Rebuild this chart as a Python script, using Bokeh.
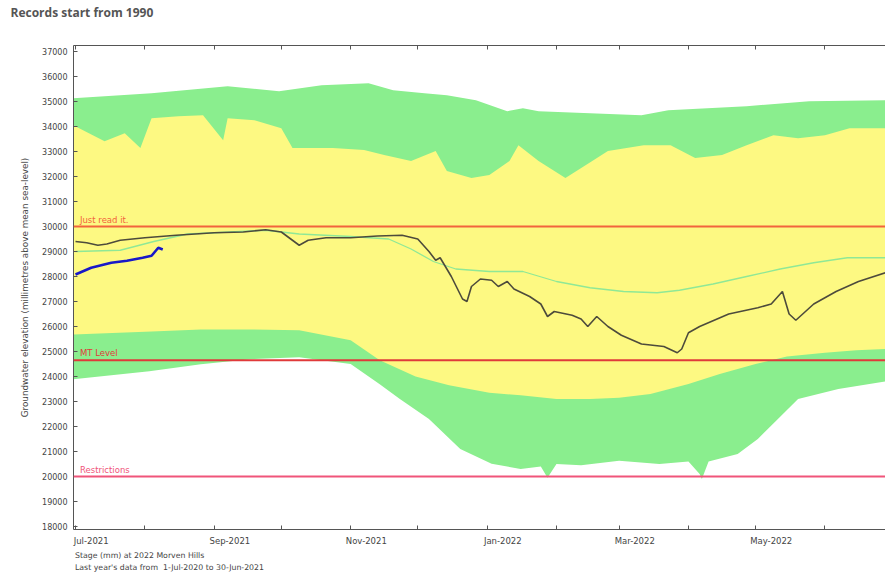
import pandas as pd
from bokeh.plotting import figure
from bokeh.layouts import column
from bokeh.models import (Range1d, FixedTicker, DatetimeAxis, LinearAxis, Label,
                          Span, Legend, LegendItem)
from bokeh.embed import file_html
from bokeh.resources import INLINE

# ---------------- data ----------------
gmax_dates = ["2021-06-30", "2021-08-04", "2021-09-07", "2021-09-30", "2021-10-19",
              "2021-11-09", "2021-11-20", "2021-12-04", "2021-12-14", "2021-12-27",
              "2022-01-10", "2022-01-17", "2022-01-24", "2022-02-16", "2022-03-11",
              "2022-03-23", "2022-04-27", "2022-05-25", "2022-06-28"]
green_max = [35130, 35330, 35610, 35410, 35650, 35730, 35450, 35330, 35250, 35050,
             34610, 34730, 34610, 34530, 34450, 34650, 34810, 35010, 35050]

ytop_dates = ["2021-06-30", "2021-07-14", "2021-07-23", "2021-07-30", "2021-08-04",
              "2021-08-16", "2021-08-27", "2021-09-05", "2021-09-07", "2021-09-19",
              "2021-10-01", "2021-10-06", "2021-10-24", "2021-11-07", "2021-11-16",
              "2021-11-28", "2021-12-09", "2021-12-14", "2021-12-25", "2022-01-02",
              "2022-01-11", "2022-01-15", "2022-01-24", "2022-02-05", "2022-02-17",
              "2022-02-24", "2022-03-12", "2022-03-24", "2022-04-04", "2022-04-16",
              "2022-04-27", "2022-05-09", "2022-05-20", "2022-06-01", "2022-06-12",
              "2022-06-28"]
yellow_top = [34050, 33410, 33730, 33140, 34330, 34410, 34450, 33450, 34330, 34250,
              33930, 33140, 33140, 33060, 32860, 32620, 33020, 32220, 31940, 32060,
              32620, 33250, 32620, 31940, 32620, 33020, 33250, 33250, 32740, 32860,
              33250, 33650, 33530, 33650, 33930, 33930]

ybot_dates = ["2021-06-30", "2021-08-04", "2021-08-26", "2021-09-17", "2021-10-09",
              "2021-11-01", "2021-11-14", "2021-11-30", "2021-12-15", "2022-01-02",
              "2022-01-16", "2022-02-01", "2022-02-16", "2022-03-01", "2022-03-15",
              "2022-04-01", "2022-04-15", "2022-05-01", "2022-05-15", "2022-06-01",
              "2022-06-15", "2022-06-28"]
yellow_bottom = [25680, 25800, 25880, 25880, 25850, 25450, 24650, 24000, 23650, 23350,
                 23250, 23100, 23100, 23150, 23300, 23700, 24100, 24500, 24800, 24950,
                 25050, 25100]

gmin_dates = ["2021-06-30", "2021-08-03", "2021-08-26", "2021-09-17", "2021-10-09",
              "2021-11-01", "2021-11-14", "2021-11-23", "2021-12-06", "2021-12-20",
              "2022-01-03", "2022-01-16", "2022-01-25", "2022-01-28", "2022-02-01",
              "2022-02-12", "2022-03-01", "2022-03-19", "2022-04-01", "2022-04-06",
              "2022-04-07", "2022-04-10", "2022-04-23", "2022-05-02", "2022-05-11",
              "2022-05-20", "2022-06-07", "2022-06-28"]
green_min = [23890, 24210, 24490, 24690, 24770, 24500, 23690, 23100, 22300, 21100,
             20510, 20300, 20400, 19950, 20500, 20450, 20630, 20500, 20600, 20100,
             19900, 20600, 20900, 21500, 22300, 23100, 23500, 23800]

stage_dates = ["2021-07-01", "2021-07-06", "2021-07-11", "2021-07-15", "2021-07-21",
               "2021-08-01", "2021-08-15", "2021-09-01", "2021-09-14", "2021-09-24",
               "2021-10-01", "2021-10-09", "2021-10-13", "2021-10-21", "2021-11-01",
               "2021-11-13", "2021-11-24", "2021-12-01", "2021-12-06", "2021-12-09",
               "2021-12-11", "2021-12-16", "2021-12-21", "2021-12-23", "2021-12-25",
               "2021-12-29", "2022-01-03", "2022-01-06", "2022-01-10", "2022-01-13",
               "2022-01-20", "2022-01-25", "2022-01-28", "2022-01-31", "2022-02-08",
               "2022-02-12", "2022-02-15", "2022-02-19", "2022-02-24", "2022-03-02",
               "2022-03-11", "2022-03-21", "2022-03-27", "2022-03-29", "2022-04-01",
               "2022-04-06", "2022-04-19", "2022-05-02", "2022-05-08", "2022-05-13",
               "2022-05-16", "2022-05-19", "2022-05-27", "2022-06-06", "2022-06-16",
               "2022-06-28"]
stage_values = [29400, 29350, 29250, 29300, 29450, 29550, 29650, 29750, 29780, 29870,
                29780, 29250, 29450, 29550, 29550, 29620, 29650, 29500, 29000, 28650,
                28750, 28000, 27100, 27000, 27600, 27900, 27850, 27600, 27800, 27500,
                27200, 26900, 26400, 26600, 26450, 26300, 26000, 26400, 26000, 25650,
                25300, 25200, 24950, 25100, 25750, 26000, 26500, 26750, 26900, 27400,
                26500, 26250, 26900, 27400, 27800, 28150]

last_dates = ["2021-07-01", "2021-07-21", "2021-08-05", "2021-08-20", "2021-09-01",
              "2021-09-24", "2021-10-09", "2021-11-01", "2021-11-18", "2021-11-28",
              "2021-12-08", "2021-12-18", "2022-01-02", "2022-01-17", "2022-02-01",
              "2022-02-16", "2022-03-03", "2022-03-18", "2022-03-28", "2022-04-12",
              "2022-04-27", "2022-05-12", "2022-05-27", "2022-06-11", "2022-06-28"]
last_values = [29000, 29050, 29400, 29700, 29750, 29850, 29700, 29600, 29500, 29100,
               28600, 28300, 28200, 28200, 27800, 27550, 27400, 27350, 27450, 27700,
               28000, 28300, 28550, 28750, 28750]

current_dates = ["2021-07-01", "2021-07-08", "2021-07-17", "2021-07-24", "2021-07-31",
                 "2021-08-04", "2021-08-07", "2021-08-09"]
current_values = [28080, 28350, 28550, 28630, 28750, 28830, 29150, 29080]

levels = [30000, 24650, 20000]
level_names = ["Just read it.", "MT Level", "Restrictions"]
level_colors = ["#f2643c", "#e03a3a", "#f0557a"]

y_ticks = list(range(18000, 37001, 1000))
x_tick_dates = ["2021-07-01", "2021-08-01", "2021-09-01", "2021-10-01", "2021-11-01",
                "2021-12-01", "2022-01-01", "2022-02-01", "2022-03-01", "2022-04-01",
                "2022-05-01", "2022-06-01"]
x_tick_labels = ["Jul-2021", "", "Sep-2021", "", "Nov-2021", "", "Jan-2022", "",
                 "Mar-2022", "", "May-2022", ""]

title_text = "Records start from 1990"
y_title = "Groundwater elevation (millimetres above mean sea-level)"
legend_texts = ["Stage (mm) at 2022 Morven Hills",
                "Last year's data from  1-Jul-2020 to 30-Jun-2021"]


def ms(d):
    return pd.Timestamp(d).timestamp() * 1000


DAY = 86400000.0
FONT = "DejaVu Sans"
GREEN = "#8aee8e"
YELLOW = "#fdf982"
AXC = "#555555"
STAGE_C = "#4d4b3c"
LAST_C = "#8fe896"


def bare(fig):
    fig.outline_line_color = None
    fig.xgrid.visible = False
    fig.ygrid.visible = False
    return fig


# ---------------- title strip ----------------
t = bare(figure(width=885, height=26, output_backend="svg", toolbar_location=None,
                x_axis_type=None, y_axis_type=None, x_range=Range1d(0, 1),
                y_range=Range1d(0, 1), min_border_left=0, min_border_right=0,
                min_border_top=20, min_border_bottom=0))
t.title.text = title_text
t.title.align = "left"
t.title.offset = -63
t.title.text_font = "Open Sans"
t.title.text_font_size = "12px"
t.title.text_font_style = "bold"
t.title.text_color = "#555555"
t.title.standoff = 0

# ---------------- main figure ----------------
p = bare(figure(width=885, height=522, output_backend="svg", toolbar_location=None,
                x_axis_type=None, y_axis_type=None,
                x_range=Range1d(ms("2021-06-30 02:30"), ms("2022-06-28 02:00")),
                y_range=Range1d(17880, 37240),
                min_border_left=73, min_border_right=0, min_border_top=19,
                min_border_bottom=15))
p.background_fill_color = "white"

gx = [ms(d) for d in gmax_dates] + [ms(d) for d in gmin_dates][::-1]
gy = list(green_max) + list(green_min)[::-1]
p.patch(gx, gy, fill_color=GREEN, line_color=None)
yx = [ms(d) for d in ytop_dates] + [ms(d) for d in ybot_dates][::-1]
yy = list(yellow_top) + list(yellow_bottom)[::-1]
p.patch(yx, yy, fill_color=YELLOW, line_color=None)

p.line([ms(d) for d in last_dates], last_values, line_color=LAST_C, line_width=1.3)
p.line([ms(d) for d in stage_dates], stage_values, line_color=STAGE_C, line_width=1.6)
p.line([ms(d) for d in current_dates], current_values, line_color="#1818c8", line_width=2.6)

for lv, nm, col in zip(levels, level_names, level_colors):
    p.add_layout(Span(location=lv, dimension="width", line_color=col, line_width=2))
    p.add_layout(Label(x=ms("2021-07-03"), y=lv, text=nm, text_color=col,
                       text_font=FONT, text_font_size="8.5px", y_offset=2,
                       text_baseline="bottom"))

tick_ms = [ms(d) for d in x_tick_dates]


def tick_axis():
    ax = DatetimeAxis(ticker=FixedTicker(ticks=tick_ms))
    ax.major_tick_in = 4
    ax.major_tick_out = 0
    ax.minor_tick_line_color = None
    ax.axis_line_color = AXC
    ax.major_tick_line_color = AXC
    ax.major_label_text_font_size = "0px"
    ax.major_label_standoff = 0
    ax.major_label_overrides = {tk: "" for tk in tick_ms}
    return ax


p.add_layout(tick_axis(), "above")
p.add_layout(tick_axis(), "below")

lab_ms = [tk + 7 * DAY for tk in tick_ms]
lab_ax = DatetimeAxis(ticker=FixedTicker(ticks=lab_ms))
lab_ax.axis_line_color = None
lab_ax.major_tick_line_color = None
lab_ax.minor_tick_line_color = None
lab_ax.major_label_text_font = FONT
lab_ax.major_label_text_font_size = "8.5px"
lab_ax.major_label_text_color = "#444444"
lab_ax.major_label_standoff = 0
lab_ax.major_label_overrides = {tk: lb for tk, lb in zip(lab_ms, x_tick_labels)}
p.add_layout(lab_ax, "below")

ay = LinearAxis(ticker=FixedTicker(ticks=y_ticks))
ay.major_tick_in = 4
ay.major_tick_out = 0
ay.minor_tick_line_color = None
ay.axis_line_color = AXC
ay.major_tick_line_color = AXC
ay.major_label_text_font = FONT
ay.major_label_text_font_size = "8px"
ay.major_label_text_color = "#444444"
ay.major_label_standoff = 6
ay.axis_label = y_title
ay.axis_label_text_font = FONT
ay.axis_label_text_font_size = "8.8px"
ay.axis_label_text_font_style = "normal"
ay.axis_label_text_color = "#444444"
ay.axis_label_standoff = 9
p.add_layout(ay, "left")

# ---------------- legend strip ----------------
q = bare(figure(width=885, height=25, output_backend="svg", toolbar_location=None,
                x_axis_type=None, y_axis_type=None, x_range=Range1d(0, 1),
                y_range=Range1d(0, 1), min_border_left=0, min_border_right=0,
                min_border_top=0, min_border_bottom=0))
r1 = q.line([5, 6], [5, 6], line_color=STAGE_C, line_width=1.6)
r2 = q.line([5, 6], [5, 6], line_color=LAST_C, line_width=1.3)
legend = Legend(items=[LegendItem(label=legend_texts[0], renderers=[r1]),
                       LegendItem(label=legend_texts[1], renderers=[r2])],
                orientation="vertical", location=(-10, 0),
                border_line_color=None, background_fill_alpha=0,
                padding=0, margin=0, spacing=0, label_height=12, glyph_height=12,
                glyph_width=7, label_standoff=5, label_text_font=FONT,
                label_text_font_size="7.8px", label_text_color="#444444")
q.add_layout(legend)

open("out.html", "w").write(file_html(column(t, p, q, spacing=0), INLINE))
